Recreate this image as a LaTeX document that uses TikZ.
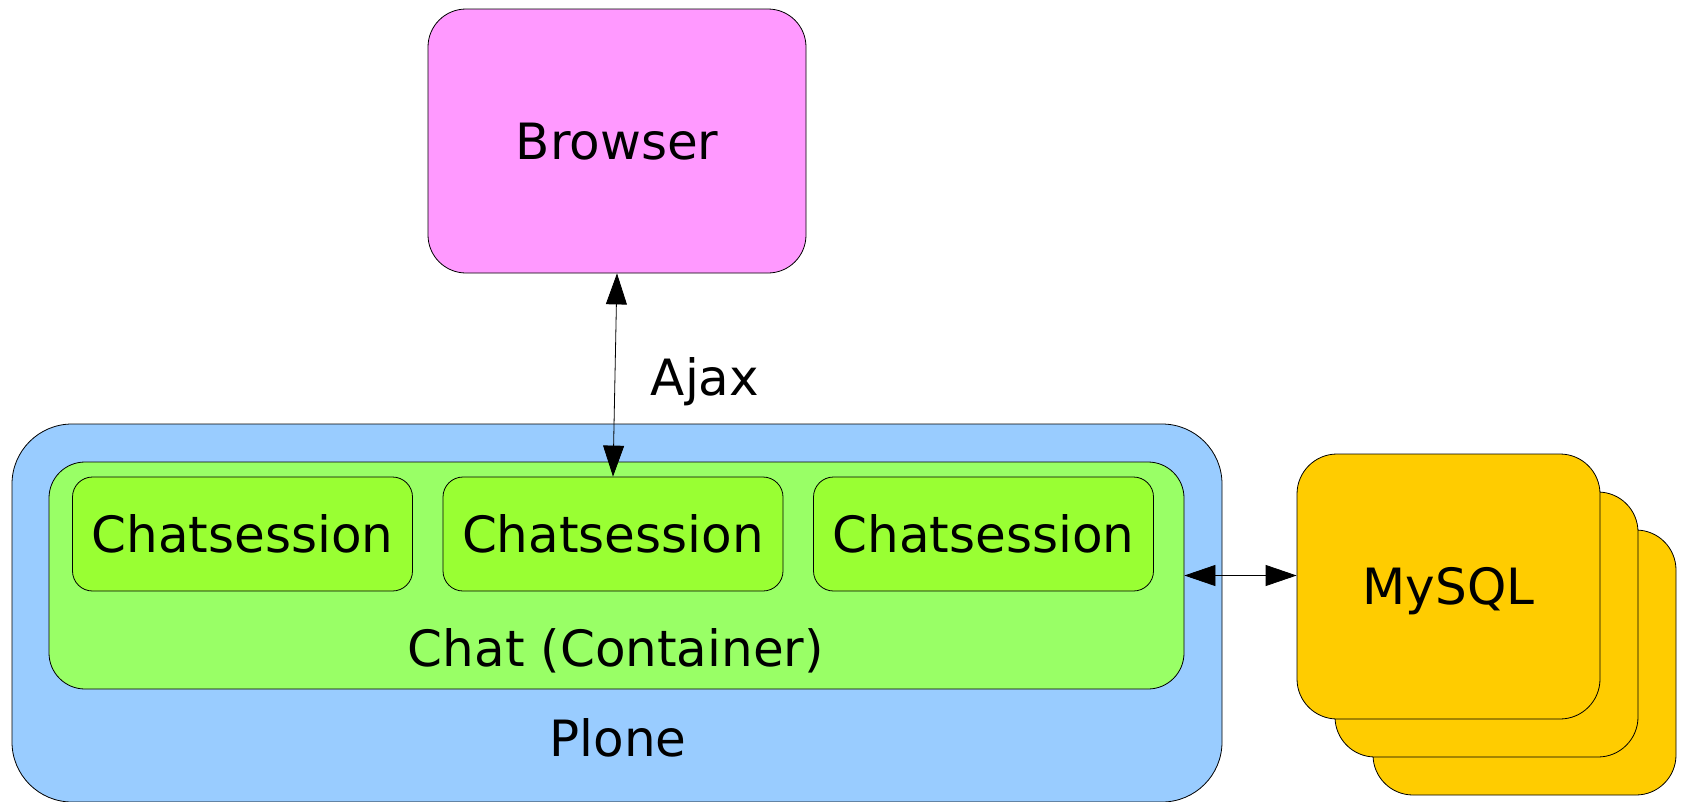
\documentclass[tikz,border=0pt]{standalone}
\usepackage{fontspec}
\setmainfont{DejaVu Sans}
\usetikzlibrary{arrows.meta}

\definecolor{browserpink}{HTML}{FF99FF}
\definecolor{ploneblue}{HTML}{99CCFF}
\definecolor{chatgreen}{HTML}{99FF66}
\definecolor{sessiongreen}{HTML}{99FF33}
\definecolor{mysqlyellow}{HTML}{FFCC00}

\tikzset{
  box/.style={draw, line width=0.8pt, inner sep=0pt, text height=36pt, text depth=0pt,
    font=\fontsize{50}{60}\selectfont},
  caption/.style={inner sep=0pt, anchor=base, font=\fontsize{50}{60}\selectfont},
  >={Triangle[length=31pt,width=21pt]}
}

\begin{document}
\begin{tikzpicture}[x=1pt,y=-1pt]
   \useasboundingbox (0,0) rectangle (1684,801);

   \node (Plone) at (617,613) [box, fill=ploneblue, rounded corners=60pt,
      minimum width=1210pt, minimum height=378pt] {};
   \node (Chat) at (616.5,575.5) [box, fill=chatgreen, rounded corners=36pt,
      minimum width=1135pt, minimum height=227pt] {};

   \node (SessionA) at (242.5,534) [box, fill=sessiongreen, rounded corners=20pt,
      minimum width=340pt, minimum height=114pt] {Chatsession};
   \node (SessionB) at (613,534) [box, fill=sessiongreen, rounded corners=20pt,
      minimum width=340pt, minimum height=114pt] {Chatsession};
   \node (SessionC) at (983.5,534) [box, fill=sessiongreen, rounded corners=20pt,
      minimum width=340pt, minimum height=114pt] {Chatsession};

   \node (ChatLabel) at (616,666) [caption] {Chat (Container)};
   \node (PloneLabel) at (618,756) [caption] {Plone};

   \node (Browser) at (617,141) [box, fill=browserpink, rounded corners=38pt,
      minimum width=378pt, minimum height=264pt] {Browser};

   \node (MySQLc) at (1524.5,662.5) [box, fill=mysqlyellow, rounded corners=40pt,
      minimum width=303pt, minimum height=265pt] {};
   \node (MySQLb) at (1486.5,624.5) [box, fill=mysqlyellow, rounded corners=40pt,
      minimum width=303pt, minimum height=265pt] {};
   \node (MySQL) at (1448.5,586.5) [box, fill=mysqlyellow, rounded corners=40pt,
      minimum width=303pt, minimum height=265pt] {MySQL};

   \node (Ajax) at (705,395) [caption] {Ajax};

   \draw [<->, line width=0.8pt] (Browser.south) -- (SessionB.north);
   \draw [<->, line width=0.8pt] (Chat.east) -- (MySQL.west |- Chat.east);

\end{tikzpicture}
\end{document}
